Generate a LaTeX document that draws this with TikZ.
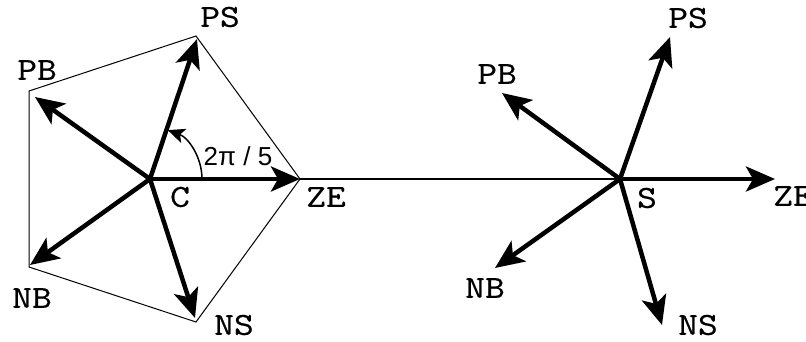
\documentclass[tikz,border=0pt]{standalone}
\usepackage{fontspec}
\setmainfont{Liberation Serif}
\setmonofont[FakeStretch=1.2,FakeBold=0.6]{Latin Modern Mono}
\newfontfamily\anglefont{Liberation Sans}
\usetikzlibrary{arrows.meta}
\begin{document}
\begin{tikzpicture}[x=1pt,y=1pt,
  vec/.style={line width=4.5pt,-{Stealth[length=29pt,width=25pt,inset=7pt]}},
  edge/.style={line width=1pt},
  lbl/.style={inner sep=0pt,font=\fontsize{32}{32}\selectfont\ttfamily}]
\useasboundingbox (0,0) rectangle (806,341);
\fill[white] (0,0) rectangle (806,341);
% left star
\coordinate (C) at (150,162);
\coordinate (v0) at (300,162);
\coordinate (v1) at (196,305);
\coordinate (v2) at (29,250);
\coordinate (v3) at (29,74);
\coordinate (v4) at (196,19);
\coordinate (a0) at (300,162);
\coordinate (a1) at (197,302);
\coordinate (a2) at (35,244);
\coordinate (a3) at (30,76);
\coordinate (a4) at (195,23);
% right star
\coordinate (S) at (620,162);
\coordinate (s0) at (775,162);
\coordinate (s1) at (670,304);
\coordinate (s2) at (502,248);
\coordinate (s3) at (495,73);
\coordinate (s4) at (662,16);
% pentagon and connecting line
\draw[edge] (v0) -- (v1) -- (v2) -- (v3) -- (v4) -- cycle;
\draw[line width=1.6pt] (v0) -- (S);
% arrows
\foreach \i in {0,...,4} {
  \draw[vec] (C) -- (a\i);
  \draw[vec] (S) -- (s\i);
}
% angle arc
\draw[line width=1.5pt,-{Stealth[length=17pt,width=15pt,inset=4pt]}] ([xshift=52pt]C) arc[start angle=0,end angle=70,radius=52pt];
\node[inner sep=0pt,font=\fontsize{26}{26}\selectfont\anglefont] (ang) at (238,185) {2π / 5};
% labels
\node[lbl] (lPS) at (220,324) {PS};
\node[lbl] (lPB) at (37,271) {PB};
\node[lbl] (lNB) at (32,43) {NB};
\node[lbl] (lNS) at (234,16) {NS};
\node[lbl] (lZE) at (326,144) {ZE};
\node[lbl] (lC) at (180,144) {C};
\node[lbl] (rPS) at (688,323) {PS};
\node[lbl] (rPB) at (497,267) {PB};
\node[lbl] (rNB) at (485,53) {NB};
\node[lbl] (rNS) at (698,16) {NS};
\node[lbl] (rZE) at (793,145) {ZE};
\node[lbl] (rS) at (647,143) {S};
\end{tikzpicture}
\end{document}
